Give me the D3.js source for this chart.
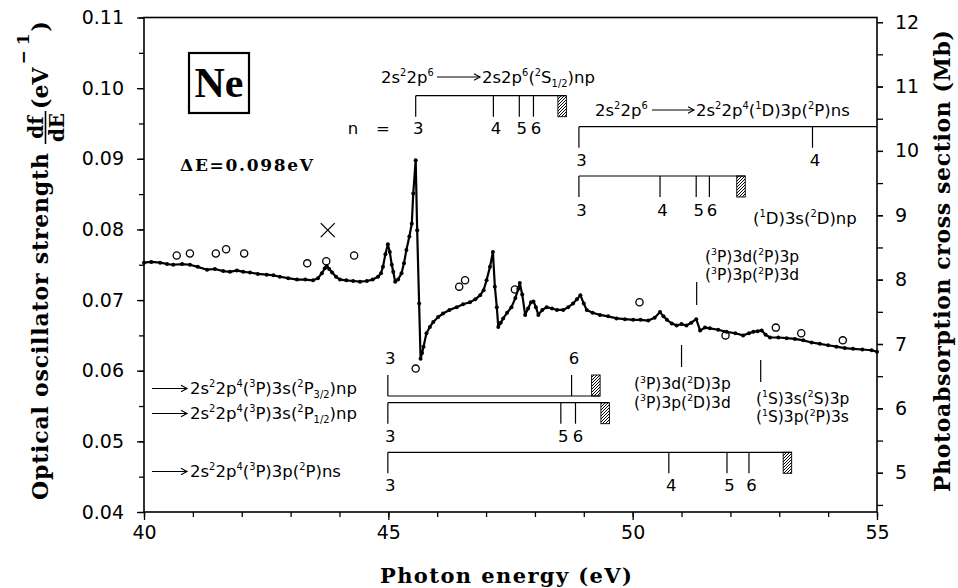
<!DOCTYPE html>
<html>
<head>
<meta charset="utf-8">
<script src="https://cdn.jsdelivr.net/npm/d3@7"></script>
<style>
  body { margin: 0; background: #fff; }
</style>
</head>
<body>
<div id="chart"></div>
<script>
// photon energy (eV) and df/dE (1/eV)
const energy = [
  40.00, 40.15, 40.33, 40.47, 40.60, 40.78, 40.94, 41.10, 41.29, 41.45,
  41.62, 41.76, 41.90, 42.03, 42.17, 42.33, 42.51, 42.65, 42.78, 42.95,
  43.13, 43.30, 43.46, 43.56, 43.64, 43.70, 43.74, 43.79, 43.85, 43.93,
  44.01, 44.14, 44.28, 44.42, 44.56, 44.68, 44.79, 44.85, 44.89, 44.94,
  44.99, 45.03, 45.07, 45.10, 45.14, 45.20, 45.27, 45.32, 45.37, 45.43,
  45.48, 45.51, 45.56, 45.59, 45.63, 45.66, 45.69, 45.72, 45.78, 45.85,
  45.92, 46.02, 46.12, 46.25, 46.40, 46.53, 46.67, 46.78, 46.88, 46.95,
  47.01, 47.08, 47.14, 47.18, 47.22, 47.25, 47.30, 47.35, 47.43, 47.52,
  47.60, 47.66, 47.69, 47.74, 47.80, 47.86, 47.92, 47.97, 48.02, 48.07,
  48.15, 48.24, 48.35, 48.45, 48.58, 48.68, 48.78, 48.86, 48.93, 49.00,
  49.06, 49.18, 49.33, 49.50, 49.67, 49.84, 50.01, 50.16, 50.32, 50.45,
  50.56, 50.63, 50.70, 50.80, 50.90, 51.00, 51.10, 51.20, 51.30, 51.38,
  51.48, 51.58, 51.75, 51.92, 52.10, 52.26, 52.38, 52.47, 52.56, 52.64,
  52.72, 52.81, 52.98, 53.15, 53.32, 53.49, 53.66, 53.83, 54.00, 54.17,
  54.34, 54.51, 54.70, 54.89, 55.00
];
const oscStrength = [
  0.0753, 0.0754, 0.0753, 0.0751, 0.0750, 0.0751, 0.0750, 0.0747, 0.0743, 0.0744,
  0.0741, 0.0740, 0.0742, 0.0740, 0.0739, 0.0737, 0.0736, 0.0735, 0.0733, 0.0731,
  0.0729, 0.0729, 0.0728, 0.0731, 0.0738, 0.0745, 0.0748, 0.0744, 0.0739, 0.0733,
  0.0729, 0.0728, 0.0727, 0.0726, 0.0727, 0.0729, 0.0733, 0.0738, 0.0747, 0.0765,
  0.0779, 0.0768, 0.0750, 0.0740, 0.0726, 0.0729, 0.0738, 0.0752, 0.0771, 0.0790,
  0.0808, 0.0851, 0.0898, 0.0799, 0.0695, 0.0617, 0.0625, 0.0634, 0.0653, 0.0662,
  0.0669, 0.0676, 0.0681, 0.0686, 0.0690, 0.0694, 0.0697, 0.0701, 0.0707, 0.0714,
  0.0728, 0.0747, 0.0768, 0.0719, 0.0690, 0.0662, 0.0668, 0.0674, 0.0682, 0.0690,
  0.0703, 0.0716, 0.0724, 0.0708, 0.0679, 0.0688, 0.0697, 0.0698, 0.0690, 0.0679,
  0.0686, 0.0690, 0.0688, 0.0686, 0.0686, 0.0690, 0.0695, 0.0701, 0.0707, 0.0695,
  0.0686, 0.0682, 0.0679, 0.0677, 0.0674, 0.0673, 0.0672, 0.0672, 0.0671, 0.0675,
  0.0683, 0.0677, 0.0672, 0.0667, 0.0664, 0.0666, 0.0664, 0.0668, 0.0673, 0.0657,
  0.0661, 0.0660, 0.0658, 0.0655, 0.0653, 0.0650, 0.0653, 0.0655, 0.0656, 0.0657,
  0.0651, 0.0647, 0.0647, 0.0646, 0.0645, 0.0643, 0.0640, 0.0638, 0.0636, 0.0634,
  0.0632, 0.0631, 0.0630, 0.0629, 0.0627
];

// open circles (other measurement)
const circleE = [40.67, 40.94, 41.47, 41.68, 42.05, 43.34, 43.73, 44.30, 45.56,
                 46.45, 46.57, 47.59, 50.14, 51.90, 52.93, 53.45, 54.30];
const circleF = [0.0763, 0.0766, 0.0766, 0.0772, 0.0766, 0.0752, 0.0755, 0.0763, 0.0603,
                 0.0719, 0.0728, 0.0715, 0.0697, 0.0650, 0.0661, 0.0653, 0.0643];
// cross marker
const crossE = [43.76];
const crossF = [0.0799];

// Rydberg series: n labels, energies (eV), series limit (eV)
const s2sN = [3, 4, 5, 6],  s2sE = [45.56, 47.15, 47.68, 47.97], s2sLim = 48.47;
const d3pN = [3, 4],        d3pE = [48.90, 53.68];
const d3sN = [3, 4, 5, 6],  d3sE = [48.90, 50.56, 51.30, 51.57], d3sLim = 52.13;
const p32N = [3, 6],        p32E = [44.99, 48.75], p32Lim = 49.16;
const p12N = [3, 5, 6],     p12E = [44.99, 48.53, 48.83], p12Lim = 49.35;
const p3pN = [3, 4, 5, 6],  p3pE = [44.99, 50.74, 51.93, 52.38], p3pLim = 53.08;
// single assignments
const lineE = [51.31, 51.00, 52.62];

// ticks
const xTicks = [40, 45, 50, 55];
const xMinor = d3.range(40, 56, 1);
const yTicks = [0.04, 0.05, 0.06, 0.07, 0.08, 0.09, 0.10, 0.11];
const yMinor = d3.range(0.04, 0.1101, 0.005);
const y2Ticks = [5, 6, 7, 8, 9, 10, 11, 12];
const y2Minor = d3.range(4.5, 12.01, 0.5);
const mbPerUnit = 109.75; // Mb per eV^-1

const W = 958, H = 588;
const margin = {top: 17.5, right: 81, bottom: 76, left: 144};
const sans = "'DejaVu Sans', sans-serif";
const serif = "'DejaVu Serif', serif";

const svg = d3.select("#chart").append("svg")
  .attr("width", W).attr("height", H)
  .style("font-family", sans);

const x = d3.scaleLinear().domain([40, 55]).range([margin.left, W - margin.right]);
const y = d3.scaleLinear().domain([0.04, 0.11]).range([H - margin.bottom, margin.top]);
const y2 = d3.scaleLinear().domain([0.04 * mbPerUnit, 0.11 * mbPerUnit]).range([H - margin.bottom, margin.top]);

// hatch pattern for series limits
svg.append("defs").append("pattern")
  .attr("id", "hatch").attr("patternUnits", "userSpaceOnUse")
  .attr("width", 3).attr("height", 3)
  .append("path").attr("d", "M-1,1 L1,-1 M0,3 L3,0 M2,4 L4,2")
  .attr("stroke", "#000").attr("stroke-width", 1);

// axes
function styleAxis(g, fs) {
  g.select(".domain").remove();
  g.selectAll("line").attr("stroke", "#000").attr("stroke-width", 1.3);
  g.selectAll("text").attr("font-family", sans).attr("font-size", fs).attr("fill", "#000");
}
svg.append("g").attr("transform", `translate(0,${H - margin.bottom})`)
  .call(d3.axisBottom(x).tickValues(xMinor).tickSize(5).tickFormat(""))
  .call(g => styleAxis(g, 19));
svg.append("g").attr("transform", `translate(0,${H - margin.bottom})`)
  .call(d3.axisBottom(x).tickValues(xTicks).tickSize(8).tickPadding(6).tickFormat(d3.format("d")))
  .call(g => styleAxis(g, 19));
svg.append("g").attr("transform", `translate(${margin.left},0)`)
  .call(d3.axisLeft(y).tickValues(yMinor).tickSize(5).tickFormat(""))
  .call(g => styleAxis(g, 19));
svg.append("g").attr("transform", `translate(${margin.left},0)`)
  .call(d3.axisLeft(y).tickValues(yTicks).tickSize(7).tickPadding(13).tickFormat(d3.format(".2f")))
  .call(g => styleAxis(g, 19));
svg.append("g").attr("transform", `translate(${W - margin.right},0)`)
  .call(d3.axisRight(y2).tickValues(y2Minor).tickSize(6).tickFormat(""))
  .call(g => styleAxis(g, 19));
svg.append("g").attr("transform", `translate(${W - margin.right},0)`)
  .call(d3.axisRight(y2).tickValues(y2Ticks).tickSize(6).tickPadding(12).tickFormat(d3.format("d")))
  .call(g => styleAxis(g, 19));

// frame
svg.append("rect")
  .attr("x", x(40)).attr("y", y(0.11))
  .attr("width", x(55) - x(40)).attr("height", y(0.04) - y(0.11))
  .attr("fill", "none").attr("stroke", "#000").attr("stroke-width", 1.6);

// axis titles
svg.append("text")
  .attr("x", 380).attr("y", 583)
  .attr("font-family", serif).attr("font-weight", "bold").attr("font-size", 21)
  .attr("textLength", 252).attr("lengthAdjust", "spacing")
  .text("Photon energy (eV)");

svg.append("text")
  .attr("transform", "translate(950,492) rotate(-90)")
  .attr("font-family", serif).attr("font-weight", "bold").attr("font-size", 22)
  .attr("textLength", 462).attr("lengthAdjust", "spacing")
  .text("Photoabsorption cross section (Mb)");

const yl = svg.append("g").attr("font-family", serif).attr("font-weight", "bold");
yl.append("text")
  .attr("transform", "translate(48,500) rotate(-90)")
  .attr("font-size", 22).attr("textLength", 347).attr("lengthAdjust", "spacing")
  .text("Optical oscillator strength");
yl.append("text").attr("transform", "translate(42.5,127.5) rotate(-90)")
  .attr("text-anchor", "middle").attr("font-size", 20).text("df");
yl.append("text").attr("transform", "translate(64,127.5) rotate(-90)")
  .attr("text-anchor", "middle").attr("font-size", 20).text("dE");
yl.append("line").attr("x1", 45.5).attr("x2", 45.5).attr("y1", 111).attr("y2", 144)
  .attr("stroke", "#000").attr("stroke-width", 1.6);
const evt = yl.append("text").attr("transform", "translate(48,109) rotate(-90)").attr("font-size", 22);
evt.append("tspan").text("(eV");
evt.append("tspan").attr("dy", -19).attr("dx", 3).attr("font-size", 17).text("−");
evt.append("tspan").attr("dx", 5).attr("font-size", 17).text("1");
evt.append("tspan").attr("dy", 19).attr("dx", 2).text(")");

// rich text with ^{sup} and _{sub}; several lines go into one text element
function rich(sel, px, py, str, fs, gap) {
  const lines = Array.isArray(str) ? str : [str];
  const t = sel.append("text").attr("x", px).attr("y", py)
    .attr("font-family", sans).attr("font-size", fs);
  let cur = 0;
  lines.forEach((line, k) => {
    line.split(/(\^\{[^}]*\}|_\{[^}]*\})/).filter(s => s.length).forEach((p, j) => {
      let s = p, off = 0, size = fs;
      if (p.startsWith("^{")) { s = p.slice(2, -1); off = -0.4 * fs; size = 0.6 * fs; }
      else if (p.startsWith("_{")) { s = p.slice(2, -1); off = 0.25 * fs; size = 0.6 * fs; }
      const target = k * (gap || 0) + off;
      const ts = t.append("tspan").attr("dy", (target - cur).toFixed(2)).attr("font-size", size).text(s);
      if (k > 0 && j === 0) ts.attr("x", px);
      cur = target;
    });
  });
  return t;
}

function arrow(sel, x1, x2, ay) {
  sel.append("line").attr("x1", x1).attr("x2", x2).attr("y1", ay).attr("y2", ay)
    .attr("stroke", "#000").attr("stroke-width", 1.1);
  sel.append("path").attr("d", `M${x2 - 6},${ay - 3.2} L${x2},${ay} L${x2 - 6},${ay + 3.2}`)
    .attr("fill", "none").attr("stroke", "#000").attr("stroke-width", 1.1);
}

// Rydberg ladder
function ladder(ns, es, lim, ly, dir, numY, endX) {
  const g = svg.append("g").attr("stroke", "#000").attr("stroke-width", 1.2);
  const len = 21;
  const right = lim !== undefined ? x(lim) + 8.5 : endX;
  g.append("line").attr("x1", x(es[0])).attr("x2", right).attr("y1", ly).attr("y2", ly);
  g.selectAll(".tk").data(es).join("line")
    .attr("x1", d => x(d)).attr("x2", d => x(d))
    .attr("y1", ly).attr("y2", ly + dir * len);
  if (lim !== undefined) {
    g.append("rect").attr("x", x(lim)).attr("width", 8.5)
      .attr("y", dir > 0 ? ly : ly - len).attr("height", len)
      .attr("fill", "url(#hatch)").attr("stroke-width", 0.9);
  }
  svg.append("g").selectAll("text").data(ns).join("text")
    .attr("x", (d, i) => x(es[i]) + 2.5).attr("y", numY)
    .attr("text-anchor", "middle").attr("font-size", 16.5).attr("font-family", sans)
    .text(d => d);
}

const ann = svg.append("g");
const fsA = 16.5;

// 2s -> np series
rich(ann, 381, 83, "2s^{2}2p^{6}", fsA);
arrow(ann, 437, 480, 77);
rich(ann, 482, 83, "2s2p^{6}(^{2}S_{1/2})np", fsA);
ladder(s2sN, s2sE, s2sLim, 95.7, 1, 134);
ann.append("text").attr("x", 353).attr("y", 134).attr("text-anchor", "middle")
  .attr("font-size", fsA).attr("font-family", sans).text("n");
ann.append("text").attr("x", 383).attr("y", 134).attr("text-anchor", "middle")
  .attr("font-size", fsA).attr("font-family", sans).text("=");

// (1D) series
rich(ann, 595, 116, "2s^{2}2p^{6}", fsA);
arrow(ann, 652, 694, 110);
rich(ann, 696, 116, "2s^{2}2p^{4}(^{1}D)3p(^{2}P)ns", fsA);
ladder(d3pN, d3pE, undefined, 126.7, 1, 166, x(55));
ladder(d3sN, d3sE, d3sLim, 176, 1, 216);
rich(ann, 753, 224, "(^{1}D)3s(^{2}D)np", fsA);

// (3P) series on the left
arrow(ann, 152, 187, 388.5);
rich(ann, 190, 394, "2s^{2}2p^{4}(^{3}P)3s(^{2}P_{3/2})np", fsA);
ladder(p32N, p32E, p32Lim, 396, -1, 364);
arrow(ann, 152, 187, 413.5);
rich(ann, 190, 419, "2s^{2}2p^{4}(^{3}P)3s(^{2}P_{1/2})np", fsA);
ladder(p12N, p12E, p12Lim, 402.7, 1, 441.5);
arrow(ann, 152, 187, 471.5);
rich(ann, 190, 477, "2s^{2}2p^{4}(^{3}P)3p(^{2}P)ns", fsA);
ladder(p3pN, p3pE, p3pLim, 452.3, 1, 491);

// single assignments
const singleY = [[282, 305], [345, 367], [360, 382]];
ann.selectAll(".single").data(lineE).join("line")
  .attr("x1", d => x(d)).attr("x2", d => x(d))
  .attr("y1", (d, i) => singleY[i][0]).attr("y2", (d, i) => singleY[i][1])
  .attr("stroke", "#000").attr("stroke-width", 1.2);
rich(ann, 705, 261.5, ["(^{3}P)3d(^{2}P)3p", "(^{3}P)3p(^{2}P)3d"], 15.5, 18.5);
rich(ann, 634, 389, ["(^{3}P)3d(^{2}D)3p", "(^{3}P)3p(^{2}D)3d"], 15.5, 18.5);
rich(ann, 756, 403.5, ["(^{1}S)3s(^{2}S)3p", "(^{1}S)3p(^{2}P)3s"], 15.5, 18.5);

// Ne box and resolution
ann.append("rect").attr("x", 189).attr("y", 53).attr("width", 60).attr("height", 60)
  .attr("fill", "none").attr("stroke", "#000").attr("stroke-width", 2.2);
ann.append("text").attr("x", 219).attr("y", 97).attr("text-anchor", "middle")
  .attr("font-family", "'Liberation Serif', serif").attr("font-weight", "bold")
  .attr("font-size", 42).text("Ne");
ann.append("text").attr("x", 180).attr("y", 171)
  .attr("font-family", serif).attr("font-weight", "bold")
  .attr("font-size", 17).attr("textLength", 133).attr("lengthAdjust", "spacing")
  .text("ΔE=0.098eV");

// spectrum
const pts = energy.map((e, i) => [e, oscStrength[i]]);
svg.append("path").datum(pts)
  .attr("fill", "none").attr("stroke", "#000").attr("stroke-width", 2.2)
  .attr("stroke-linejoin", "round")
  .attr("d", d3.line().x(d => x(d[0])).y(d => y(d[1])));
svg.append("g").selectAll("circle").data(pts).join("circle")
  .attr("cx", d => x(d[0])).attr("cy", d => y(d[1])).attr("r", 2).attr("fill", "#000");

// open circles
svg.append("g").selectAll("circle").data(circleE).join("circle")
  .attr("cx", d => x(d)).attr("cy", (d, i) => y(circleF[i])).attr("r", 3.6)
  .attr("fill", "none").attr("stroke", "#000").attr("stroke-width", 1.3);

// cross
svg.append("g").selectAll("path").data(crossE).join("path")
  .attr("d", (d, i) => {
    const cx = x(d), cy = y(crossF[i]), s = 7;
    return `M${cx - s},${cy - s} L${cx + s},${cy + s} M${cx - s},${cy + s} L${cx + s},${cy - s}`;
  })
  .attr("stroke", "#000").attr("stroke-width", 1.3);
</script>
</body>
</html>
